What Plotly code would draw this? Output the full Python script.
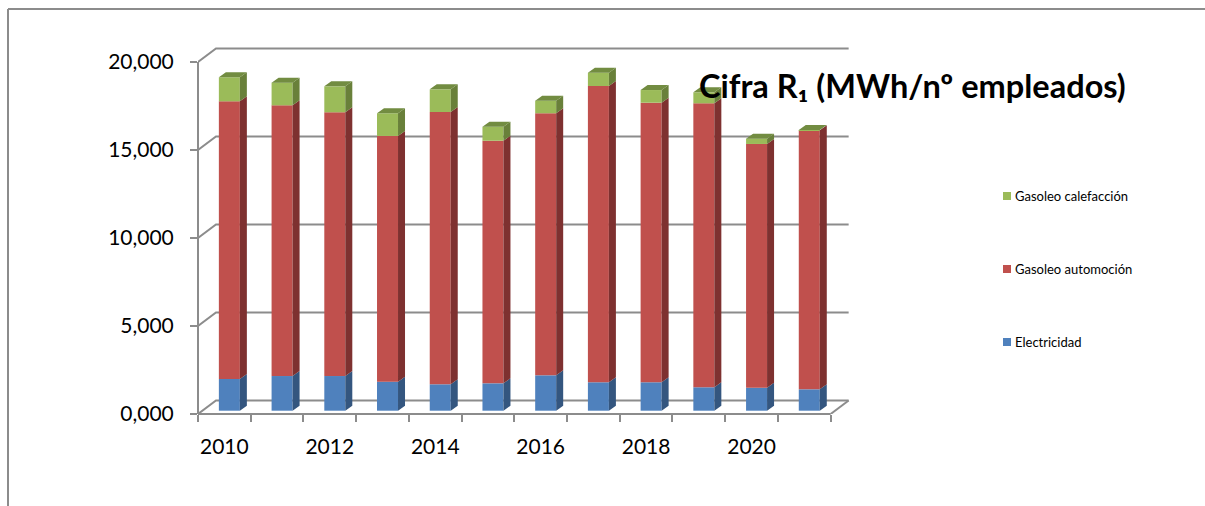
import plotly.graph_objects as go

# ---- data ----
years = [2010, 2011, 2012, 2013, 2014, 2015, 2016, 2017, 2018, 2019, 2020, 2021]
electricidad = [1800, 1970, 1970, 1650, 1500, 1555, 2010, 1615, 1615, 1330, 1305, 1215]
automocion = [15780, 15380, 14985, 13960, 15470, 13785, 14890, 16835, 15885, 16135, 13850, 14715]
calefaccion = [1365, 1290, 1475, 1290, 1290, 795, 715, 755, 720, 625, 300, 15]
y_ticks = [0, 5000, 10000, 15000, 20000]
y_labels = ["0,000", "5,000", "10,000", "15,000", "20,000"]
x_labels = ["2010", "2012", "2014", "2016", "2018", "2020"]
title_text = "Cifra R\u2081 (MWh/n\u00ba empleados)"

# ---- layout geometry (pixels) ----
W, H = 1205, 506
L, R, T, B = 198, 860, 40, 414
PX_X = 52.72              # px per category
PX_Y = 17.6 / 1000        # px per unit of value
FONT = "Lato"
GREY = "#8c8c8c"

x_max = (R - L) / PX_X
y_max = (B - T) / PX_Y
# perspective offsets, converted to data units
wall_dx, wall_dy = 18 / PX_X, 13.5 / PX_Y
bar_w = 21 / PX_X
bar_shift = 5 / PX_X
bar_lift = 3.3 / PX_Y
side_dx, side_dy = 7 / PX_X, 5 / PX_Y


def px(x):
    return (x - L) / (R - L)


def py(y):
    return (B - y) / (B - T)


series = [
    ("Electricidad", electricidad, "#4F81BD", "#34567F", "#3F6797"),
    ("Gasoleo automoci\u00f3n", automocion, "#C0504D", "#7E3130", "#993F3D"),
    ("Gasoleo calefacci\u00f3n", calefaccion, "#9BBB59", "#69803A", "#728C41"),
]

fig = go.Figure()
centres = [i + 0.5 + bar_shift for i in range(len(years))]
bottoms = [bar_lift] * len(years)

for idx, (name, vals, front, side, top) in enumerate(series):
    fig.add_trace(go.Bar(x=centres, y=vals, base=list(bottoms), width=bar_w, name=name,
                         marker=dict(color=front, line=dict(width=0)), showlegend=False))
    sx, sy, tx, ty = [], [], [], []
    tops = [b + v for b, v in zip(bottoms, vals)]
    for c, b0, b1 in zip(centres, bottoms, tops):
        x1 = c + bar_w / 2
        x0 = c - bar_w / 2
        sx += [x1, x1 + side_dx, x1 + side_dx, x1, x1, None]
        sy += [b0, b0 + side_dy, b1 + side_dy, b1, b0, None]
        if idx == len(series) - 1:
            tx += [x0, x1, x1 + side_dx, x0 + side_dx, x0, None]
            ty += [b1, b1, b1 + side_dy, b1 + side_dy, b1, None]
    fig.add_trace(go.Scatter(x=sx, y=sy, mode="lines", fill="toself", fillcolor=side,
                             line=dict(width=0), hoverinfo="skip", showlegend=False))
    if tx:
        fig.add_trace(go.Scatter(x=tx, y=ty, mode="lines", fill="toself", fillcolor=top,
                                 line=dict(width=0), hoverinfo="skip", showlegend=False))
    bottoms = tops

# chart walls, gridlines
line = dict(color=GREY, width=2)
shapes = []
for v in y_ticks:
    shapes.append(dict(type="path", xref="x", yref="y", layer="below", line=line,
                       path=f"M 0 {v} L {wall_dx} {v + wall_dy} L {12 + wall_dx} {v + wall_dy}"))
shapes.append(dict(type="line", xref="x", yref="y", layer="below", line=line,
                   x0=12, y0=0, x1=12 + wall_dx, y1=wall_dy))
shapes.append(dict(type="line", xref="x", yref="paper", layer="below", line=line,
                   x0=0, x1=12, y0=0, y1=0))
shapes.append(dict(type="line", xref="paper", yref="y", layer="below", line=line,
                   x0=0, x1=0, y0=0, y1=y_ticks[-1]))
# outer frame
shapes.append(dict(type="line", xref="paper", yref="paper", layer="below", line=line,
                   x0=px(8), x1=px(W), y0=py(9), y1=py(9)))
shapes.append(dict(type="line", xref="paper", yref="paper", layer="below", line=line,
                   x0=px(8), x1=px(8), y0=py(9), y1=py(H)))

# legend + title
annotations = [dict(xref="paper", yref="paper", x=px(912), y=py(85), text=f"<b>{title_text}</b>",
                    showarrow=False, xanchor="center", yanchor="middle",
                    font=dict(family=FONT, size=32.5, color="#000000"))]
for (name, _, front, _, _), ly in zip(series, [342, 269, 196]):
    shapes.append(dict(type="rect", xref="paper", yref="paper", layer="above",
                       x0=px(1003), x1=px(1011), y0=py(ly - 4), y1=py(ly + 4),
                       fillcolor=front, line=dict(width=0)))
    annotations.append(dict(xref="paper", yref="paper", x=px(1012.5), y=py(ly), text=name,
                            showarrow=False, xanchor="left", yanchor="middle", xshift=0,
                            font=dict(family=FONT, size=13, color="#000000")))

fig.update_layout(
    width=W, height=H, autosize=False,
    margin=dict(l=L, r=W - R, t=T, b=H - B, pad=0),
    paper_bgcolor="white", plot_bgcolor="rgba(0,0,0,0)",
    barmode="overlay", showlegend=False, hovermode=False,
    shapes=shapes, annotations=annotations,
    font=dict(family=FONT, color="#000000"),
)
fig.update_xaxes(range=[0, x_max], showgrid=False, zeroline=False, showline=False,
                 tickmode="array", tickvals=[0.5, 2.5, 4.5, 6.5, 8.5, 10.5], ticktext=x_labels,
                 ticks="", ticklabelstandoff=18, tickfont=dict(family=FONT, size=21),
                 minor=dict(ticks="outside", ticklen=7, tickwidth=2, tickcolor=GREY,
                            tickmode="array", tickvals=list(range(13)), showgrid=False))
fig.update_yaxes(range=[0, y_max], showgrid=False, zeroline=False, showline=False,
                 tickmode="array", tickvals=y_ticks, ticktext=y_labels,
                 ticks="outside", ticklen=7, tickwidth=2, tickcolor=GREY,
                 ticklabelstandoff=12, tickfont=dict(family=FONT, size=21))

fig.write_html("out.html", config={"displayModeBar": False},
               post_script="document.body.style.margin='0';")
